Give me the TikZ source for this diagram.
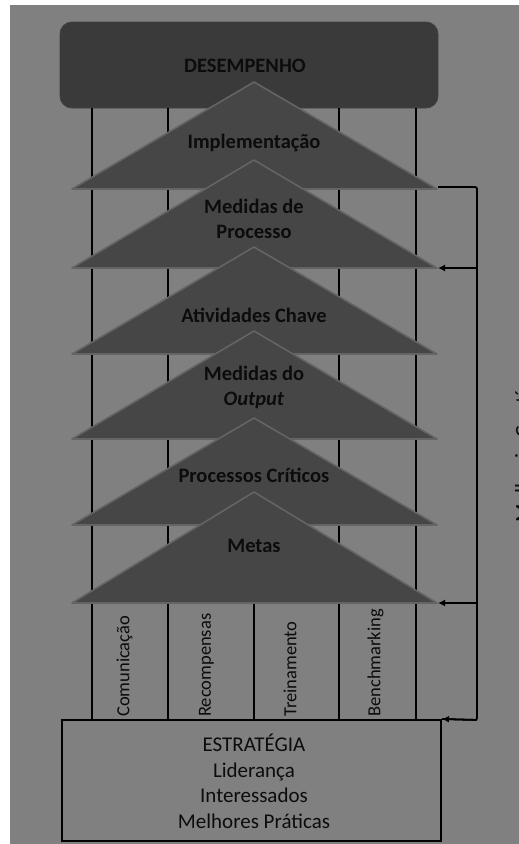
\documentclass[tikz,border=0pt]{standalone}
\usepackage{fontspec}
\setmainfont{Carlito}
\usetikzlibrary{arrows.meta}
\definecolor{bg}{RGB}{128,128,128}
\definecolor{boxdark}{RGB}{58,58,58}
\definecolor{tri}{RGB}{70,70,70}
\definecolor{tririm}{RGB}{100,100,100}
\definecolor{ink}{RGB}{12,12,12}
\begin{document}
\begin{tikzpicture}[x=1pt,y=-1pt,
  boldlbl/.style={font=\fontsize{20.5}{24}\selectfont\bfseries, text=ink, inner sep=0, anchor=base},
  stratlbl/.style={font=\fontsize{21}{25}\selectfont, text=ink, inner sep=0, anchor=base},
  vlbl/.style={font=\fontsize{18.5}{22}\selectfont, text=ink, rotate=90, anchor=west, inner sep=0},
  wire/.style={line width=1.8pt, draw=black},
  fb/.style={wire, -{Latex[length=7pt,width=7pt]}},
  tristyle/.style={fill=tri, draw=tririm, line width=1.6pt, line join=round}]
\clip (0,0) rectangle (519,844);
\fill[white] (0,0) rectangle (519,844);
\fill[bg] (10,5) rectangle (519,844);

% top box
\node[fill=boxdark, draw=black!75, line width=0.8pt, rounded corners=12pt, minimum width=378pt, minimum height=86pt, inner sep=0] (desempenho) at (249,65) {};
% strategy box
\node[draw=black, line width=2pt, fill=bg, minimum width=379pt, minimum height=121pt, inner sep=0] (strat) at (251.5,780.5) {};

% vertical lines
\foreach \x in {92,168,254,339,416}
  \draw[wire] (\x,0 |- desempenho.south) -- (\x,0 |- strat.north);

\node[boldlbl] (tdes) at (245,72) {DESEMPENHO};

% triangles
\foreach \a/\b/\n in {82/189/t1,160/268/t2,247/354/t3,331/439/t4,418/525/t5,492/603/t6}{
  \draw[tristyle] (72,\b) -- (254,\a) -- (437,\b) -- cycle;
  \coordinate (\n-r) at (438,\b);
}

\node[boldlbl] (l1) at (254,148) {Implementação};
\node[boldlbl] (l2a) at (254,213) {Medidas de};
\node[boldlbl] (l2b) at (254,238) {Processo};
\node[boldlbl] (l3) at (254,322) {Atividades Chave};
\node[boldlbl] (l4a) at (254,380) {Medidas do};
\node[boldlbl] (l4b) at (254,405) {\textit{Output}};
\node[boldlbl] (l5) at (254,482) {Processos Críticos};
\node[boldlbl] (l6) at (254,552) {Metas};

% column labels
\node[vlbl] (c1) at (124.5,717) {Comunicação};
\node[vlbl] (c2) at (206.5,717) {Recompensas};
\node[vlbl] (c3) at (290,717) {Treinamento};
\node[vlbl] (c4) at (375.5,717) {Benchmarking};

% strategy text
\node[stratlbl] (s1) at (254,751) {ESTRATÉGIA};
\node[stratlbl] (s2) at (254,777) {Liderança};
\node[stratlbl] (s3) at (254,802) {Interessados};
\node[stratlbl] (s4) at (254,828) {Melhores Práticas};

% feedback loop
\coordinate (fbtop) at (477,187);
\coordinate (fbbot) at (477,720);
\coordinate (j2) at (477,268);
\coordinate (j6) at (477,603);
\draw[wire, rounded corners=2pt] (t1-r) ++(0,-2) -- (fbtop) -- (fbbot) -- (strat.north east);
\draw[fb] (fbbot) -- (strat.north east);
\draw[fb] (j2) -- (t2-r);
\draw[fb] (j6) -- (t6-r);

% side label, cut by the right edge as in the reference
\node[font=\fontsize{21.7}{26}\selectfont, text=ink, rotate=90, anchor=base west, inner sep=0] (melhoria) at (530,523) {Melhoria Contínua};
\end{tikzpicture}
\end{document}
